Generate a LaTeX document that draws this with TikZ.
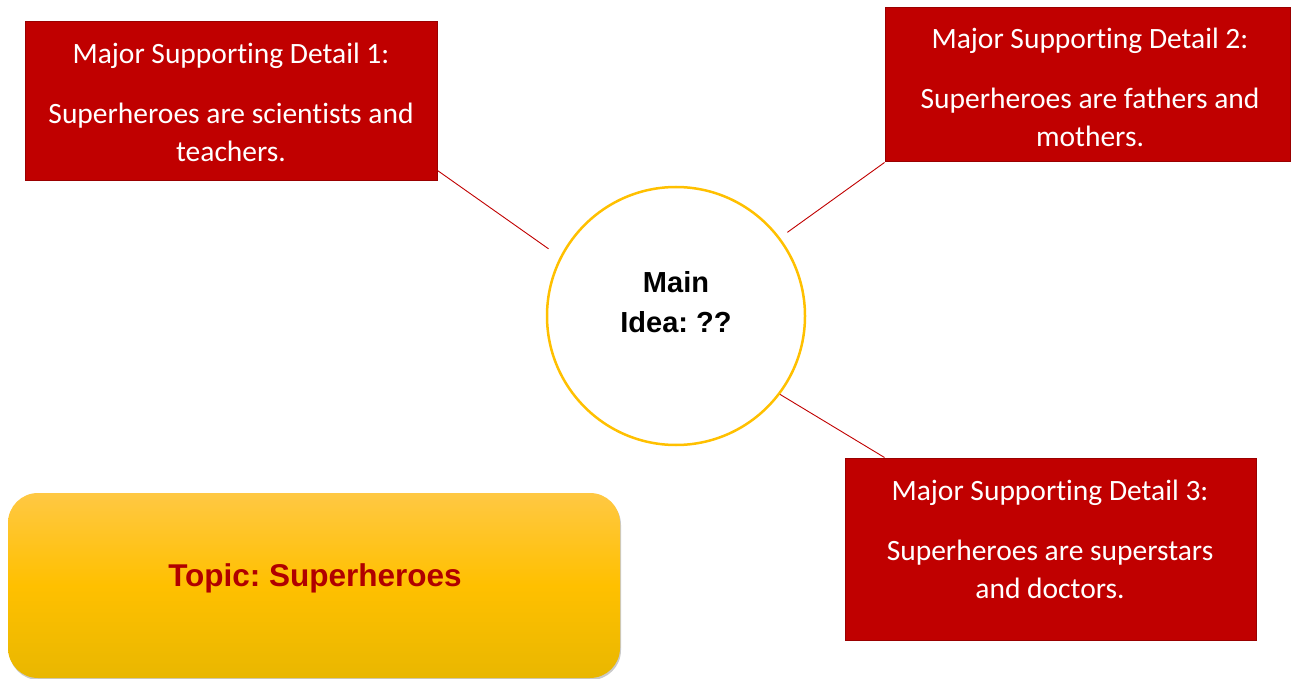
\documentclass[tikz,border=0pt]{standalone}
\usepackage{fontspec}
\setmainfont{Carlito}[Ligatures=NoCommon]
\newfontfamily\arialfont{Liberation Sans}
\usetikzlibrary{calc,shadows}
\definecolor{boxred}{HTML}{C00000}
\definecolor{boxedge}{HTML}{9A0000}
\definecolor{gold}{HTML}{FFC000}
\definecolor{goldtop}{HTML}{FFC843}
\definecolor{goldbot}{HTML}{E9B700}
\definecolor{topicred}{HTML}{B00000}
\tikzset{
  redbox/.style={draw=boxedge, line width=1pt, fill=boxred, inner sep=0pt},
  boxtext/.style={text=white, font=\frenchspacing\fontsize{29.5}{38}\selectfont, align=center, inner sep=0pt},
  link/.style={draw=boxred, line width=0.9pt},
}
\begin{document}
\begin{tikzpicture}[x=1pt,y=-1pt]
\useasboundingbox (0,0) rectangle (1291,679);
% detail boxes
\node[redbox, minimum width=412pt, minimum height=159pt] (b1) at (231,101.5) {};
\node[redbox, minimum width=405pt, minimum height=154pt] (b2) at (1087.5,85) {};
\node[redbox, minimum width=411pt, minimum height=182pt] (b3) at (1050.5,549) {};
\node[boxtext] (t1) at (231,102) {Major Supporting Detail 1:\\[22pt]Superheroes are scientists and\\teachers.};
\node[boxtext] (t2) at (1090,87.5) {Major Supporting Detail 2:\\[22pt]Superheroes are fathers and\\mothers.};
\node[boxtext] (t3) at (1050,539) {Major Supporting Detail 3:\\[22pt]Superheroes are superstars\\and doctors.};
% main idea
\node[circle, draw=gold, line width=2.5pt, fill=white, minimum size=258pt, inner sep=0pt] (main) at (676,316) {};
\node[font=\frenchspacing\arialfont\bfseries\fontsize{29}{40}\selectfont, align=center, inner sep=0pt] (mt) at (676,302) {Main\\Idea: ??};
% connectors
\draw[link, shorten >=14pt] ($(b1.south east)+(0,-11)$) -- (main.153.7);
\draw[link, shorten >=9pt] (b2.south west) -- (main.37.2);
\draw[link] ($(b3.north west)+(40,0)$) -- (main.-37.8);
% topic
\node[rounded corners=30pt, minimum width=612pt, minimum height=185pt, inner sep=0pt,
      top color=goldtop, bottom color=goldbot, middle color=gold,
      drop shadow={shadow xshift=1pt, shadow yshift=-2pt, opacity=0.35, fill=black!60}] (topic) at (314,585.5) {};
\node[text=topicred, font=\frenchspacing\arialfont\bfseries\fontsize{31.5}{34}\selectfont] (tt) at (315,578) {Topic: Superheroes};
\end{tikzpicture}
\end{document}
